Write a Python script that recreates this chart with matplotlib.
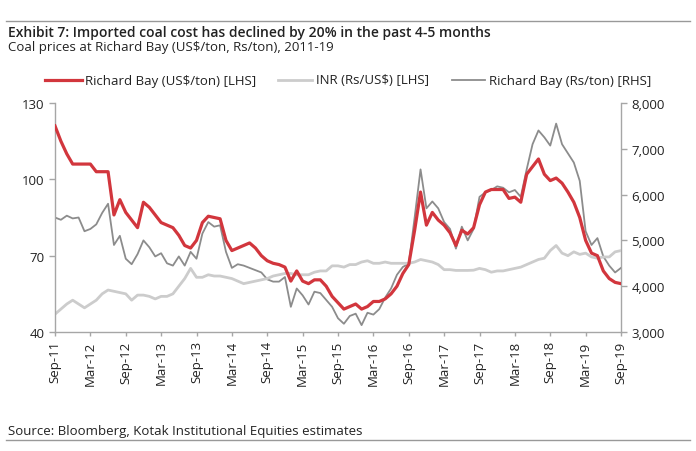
import numpy as np
import matplotlib.pyplot as plt
from matplotlib.lines import Line2D

# monthly readings, Sep-11 .. Sep-19 (97 months)
months = np.arange(97)

rb_usd = [121, 115, 110, 106, 106, 106, 106, 103, 103, 103,
          86, 92, 87, 84, 81, 91, 89, 86, 83, 82,
          81, 78, 74, 73, 76, 83, 85.5, 85, 84.5, 76,
          72, 73, 74, 75, 73, 70, 68, 67, 66.5, 65.5,
          60, 64, 60, 59, 60.5, 60.5, 58, 54, 51.5, 49,
          50, 51, 49, 50, 52, 52, 53, 55, 58, 63,
          66.5, 80, 95, 82, 87, 84, 82, 79, 74, 80,
          78.5, 81, 90, 95, 96, 96, 96, 92.5, 93, 91,
          102, 105, 108, 102, 99.5, 100.5, 98.5, 95, 91, 85,
          76, 71, 70, 64, 61, 59.5, 59]

inr = [47, 49, 51, 52.5, 51, 49.5, 51, 52.5, 55, 56.5,
       56, 55.5, 55, 52.5, 54.5, 54.5, 54, 53, 54, 54,
       55, 58, 61, 65, 61.5, 61.5, 62.5, 62, 62, 61.5,
       61, 60, 59, 59.5, 60, 60.5, 61, 62, 62.5, 63,
       63, 62.5, 62.5, 62.5, 63.5, 64, 64, 66, 66, 65.5,
       66.5, 66.5, 67.5, 68, 67, 67, 67.5, 67, 67, 67,
       67, 67.5, 68.5, 68, 67.5, 66.5, 64.5, 64.5, 64.2, 64.2,
       64.2, 64.3, 65, 64.5, 63.5, 64, 64, 64.5, 65, 65.5,
       66.5, 67.5, 68.5, 69, 72, 74, 71, 70, 71.5, 70.5,
       71, 69.5, 69, 69.5, 69.5, 71.5, 72]

rb_rs = [5500, 5450, 5540, 5480, 5500, 5200, 5250, 5350, 5600, 5800,
         4900, 5100, 4600, 4480, 4700, 5000, 4850, 4650, 4720, 4500,
         4450, 4650, 4450, 4750, 4600, 5150, 5400, 5300, 5330, 4750,
         4400, 4480, 4450, 4400, 4350, 4300, 4150, 4100, 4100, 4200,
         3550, 3950, 3800, 3600, 3880, 3850, 3700, 3550, 3300, 3180,
         3350, 3400, 3150, 3420, 3380, 3500, 3750, 3950, 4250, 4420,
         4490, 5500, 6550, 5700, 5850, 5700, 5400, 5250, 4820, 5300,
         5000, 5250, 5950, 6050, 6100, 6180, 6150, 6050, 6100, 5950,
         6550, 7100, 7400, 7250, 7070, 7550, 7100, 6900, 6700, 6300,
         5200, 4900, 5050, 4650, 4450, 4300, 4400]

tick_labels = ["Sep-11", "Mar-12", "Sep-12", "Mar-13", "Sep-13", "Mar-14",
               "Sep-14", "Mar-15", "Sep-15", "Mar-16", "Sep-16", "Mar-17",
               "Sep-17", "Mar-18", "Sep-18", "Mar-19", "Sep-19"]

RED = "#d2363d"
LIGHT = "#cccccc"
DARK = "#8c8c8c"
AXC = "#a6a6a6"
TXT = "#222222"

plt.rcParams['font.family'] = ['Open Sans', 'DejaVu Sans']

fig = plt.figure(figsize=(6.96, 4.52), dpi=100)
W, H = 696, 452
ax = fig.add_axes([55 / W, 1 - 333 / H, (621 - 55) / W, (333 - 104) / H])
ax2 = ax.twinx()

ax.plot(months, inr, color=LIGHT, lw=2.0, zorder=2)
ax.plot(months, rb_usd, color=RED, lw=2.3, zorder=3)
ax2.plot(months, rb_rs, color=DARK, lw=1.3, zorder=4)

ax.set_xlim(0, 96)
ax.set_ylim(40, 130)
ax.set_yticks([40, 70, 100, 130])
ax2.set_ylim(3000, 8000)
ax2.set_yticks(range(3000, 8001, 1000))
ax2.set_yticklabels([f"{v:,}" for v in range(3000, 8001, 1000)])
ax.set_xticks(np.arange(0, 97, 6))
ax.set_xticklabels(tick_labels, rotation=90)

ax.set_zorder(ax2.get_zorder() + 1)
ax.patch.set_visible(False)

for a in (ax, ax2):
    a.spines['top'].set_visible(False)
    for s in ('left', 'right', 'bottom'):
        a.spines[s].set_color(AXC)
        a.spines[s].set_linewidth(1.0)
    a.tick_params(colors=AXC, labelcolor=TXT, labelsize=9.5, length=4, width=1.0)
ax.spines['right'].set_visible(False)
ax2.spines['left'].set_visible(False)
ax2.spines['bottom'].set_visible(False)
ax.tick_params(axis='x', length=3, pad=3)

# header / footer
fig.add_artist(Line2D([6 / W, 690 / W], [1 - 22 / H, 1 - 22 / H], color="#999999", lw=1.0))
fig.add_artist(Line2D([6 / W, 690 / W], [1 - 441 / H, 1 - 441 / H], color="#999999", lw=1.0))
fig.text(8 / W, 1 - 33 / H, "Exhibit 7: Imported coal cost has declined by 20% in the past 4-5 months",
         fontsize=10, fontweight='semibold', color=TXT, va='center')
fig.text(8 / W, 1 - 48 / H, "Coal prices at Richard Bay (US$/ton, Rs/ton), 2011-19",
         fontsize=9.5, color=TXT, va='center')
fig.text(8 / W, 1 - 432 / H, "Source: Bloomberg, Kotak Institutional Equities estimates",
         fontsize=9.5, color=TXT, va='center')

# legend
legend_items = [(45, 82, 85, RED, 2.3, "Richard Bay (US$/ton) [LHS]"),
                (278, 312, 316, LIGHT, 2.0, "INR (Rs/US$) [LHS]"),
                (452, 485, 489, DARK, 1.3, "Richard Bay (Rs/ton) [RHS]")]
ly = 1 - 81 / H
for x0, x1, xt, c, lw, lab in legend_items:
    fig.add_artist(Line2D([x0 / W, x1 / W], [ly, ly], color=c, lw=lw))
    fig.text(xt / W, ly, lab, fontsize=9.5, color=TXT, va='center')

fig.savefig("out.png", dpi=100)
